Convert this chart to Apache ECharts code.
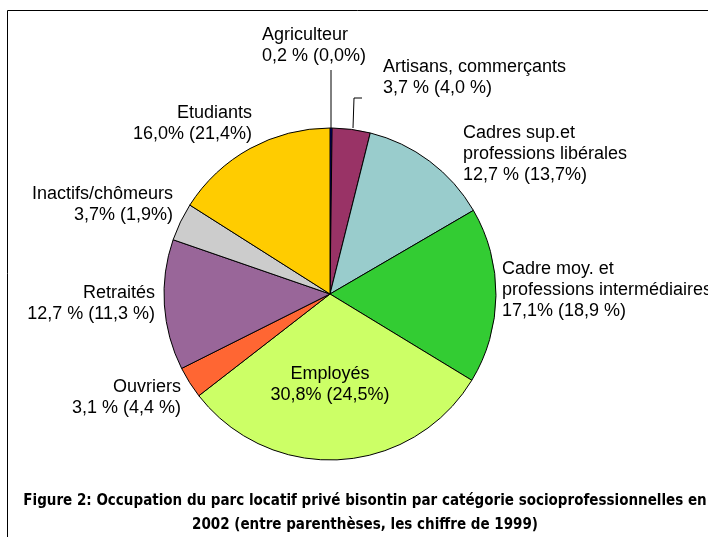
<!DOCTYPE html>
<html>
<head>
<meta charset="utf-8">
<script src="https://cdn.jsdelivr.net/npm/echarts@6/dist/echarts.min.js"></script>
<style>
  html, body { margin: 0; padding: 0; background: #fff; }
  #chart { width: 708px; height: 537px; }
</style>
</head>
<body>
<div id="chart"></div>
<script>
// categories, 2002 shares, and 1999 shares shown between brackets
const categories = ['Agriculteur', 'Artisans, commerçants', 'Cadres sup.et\nprofessions libérales',
  'Cadre moy. et\nprofessions intermédiaires', 'Employés', 'Ouvriers', 'Retraités',
  'Inactifs/chômeurs', 'Etudiants'];
const values2002 = [0.2, 3.7, 12.7, 17.1, 30.8, 3.1, 12.7, 3.7, 16.0];
const labelText = ['0,2 % (0,0%)', '3,7 % (4,0 %)', '12,7 % (13,7%)', '17,1% (18,9 %)',
  '30,8% (24,5%)', '3,1 % (4,4 %)', '12,7 % (11,3 %)', '3,7% (1,9%)', '16,0% (21,4%)'];
const colors = ['#0000ff', '#993366', '#99cccc', '#33cc33', '#ccff66', '#ff6633', '#996699', '#cccccc', '#ffcc00'];

// where each label sits (top anchor + alignment)
const labelPos = [
  { x: 262, y: 25, align: 'left' },
  { x: 383, y: 57, align: 'left' },
  { x: 463, y: 123, align: 'left' },
  { x: 502, y: 259, align: 'left' },
  { x: 330, y: 364, align: 'center' },
  { x: 181, y: 377, align: 'right' },
  { x: 155, y: 283, align: 'right' },
  { x: 173, y: 184, align: 'right' },
  { x: 252, y: 103, align: 'right' }
];

const chart = echarts.init(document.getElementById('chart'));

const option = {
  animation: false,
  backgroundColor: '#fff',
  title: {
    text: 'Figure 2: Occupation du parc locatif privé bisontin par catégorie socioprofessionnelles en\n2002 (entre parenthèses, les chiffre de 1999)',
    left: 360,
    top: 484,
    textAlign: 'center',
    textStyle: {
      fontFamily: "'DejaVu Sans Condensed', sans-serif",
      fontSize: 15,
      fontWeight: 'bold',
      color: '#000',
      lineHeight: 24,
      align: 'center'
    }
  },
  graphic: [{
    type: 'polyline',
    shape: { points: [[7.5, 537], [7.5, 10.5], [708, 10.5]] },
    style: { stroke: '#000', lineWidth: 1, fill: null }
  }],
  series: [{
    type: 'pie',
    center: [330, 294],
    radius: 166,
    startAngle: 90,
    clockwise: true,
    avoidLabelOverlap: false,
    data: categories.map((c, i) => ({
      name: c,
      value: values2002[i],
      itemStyle: { color: colors[i] }
    })),
    itemStyle: { borderColor: '#000', borderWidth: 1 },
    label: {
      show: true,
      formatter: p => p.name + '\n' + labelText[p.dataIndex],
      fontFamily: "'Liberation Sans', Arial, sans-serif",
      fontSize: 18,
      lineHeight: 21,
      color: '#000'
    },
    labelLine: {
      show: true,
      length: 0,
      length2: 0,
      lineStyle: { color: '#000', width: 1 }
    },
    labelLayout: function (params) {
      const i = params.dataIndex;
      const p = labelPos[i];
      const out = { x: p.x, y: p.y, align: p.align, verticalAlign: 'top' };
      if (i === 0) {
        out.labelLinePoints = [[331, 128], [331, 70], [331, 70]];
      } else if (i === 1) {
        out.labelLinePoints = [[353, 128], [354, 98], [362, 98]];
      } else {
        out.labelLinePoints = [[0, 0], [0, 0], [0, 0]];
      }
      return out;
    }
  }]
};

chart.setOption(option);
</script>
</body>
</html>
